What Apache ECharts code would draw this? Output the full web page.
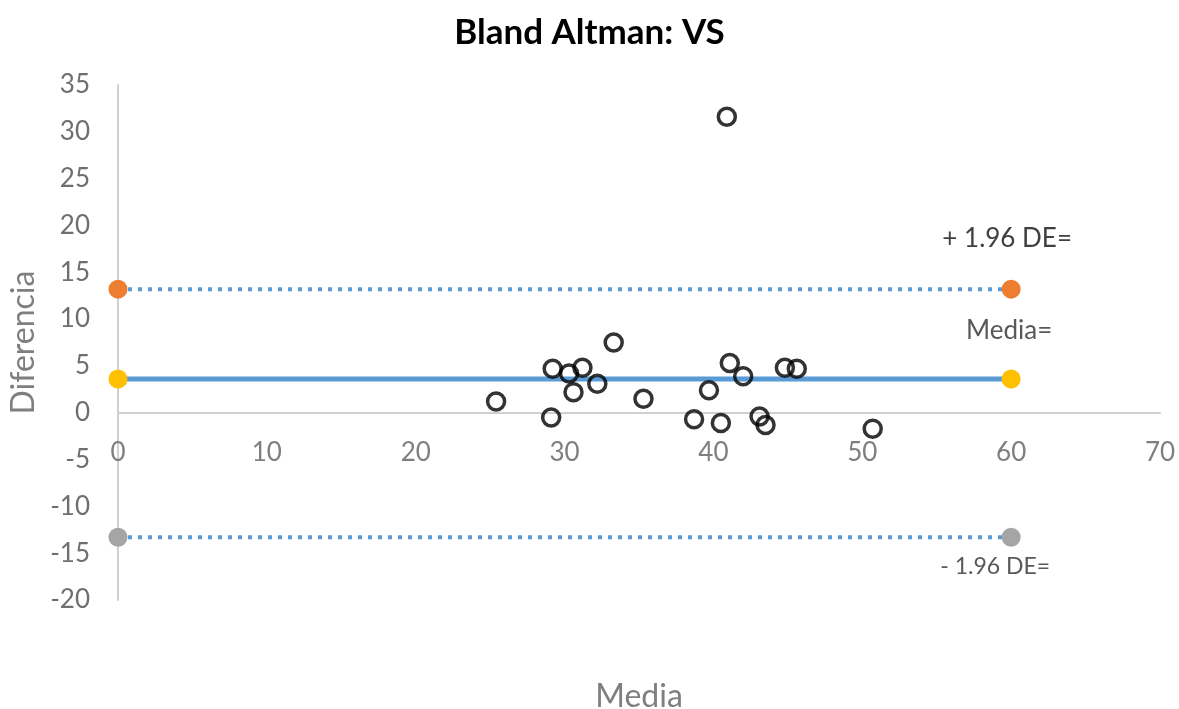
<!DOCTYPE html>
<html><head><meta charset="utf-8">
<script src="https://cdn.jsdelivr.net/npm/echarts@6/dist/echarts.min.js"></script>
<style>html,body{margin:0;padding:0;background:#fff}#c{width:1179px;height:709px}</style>
</head><body><div id="c"></div>
<script>
var mediaX = [25.4, 29.1, 29.2, 30.3, 31.2, 30.6, 32.2, 33.3, 35.3, 40.9, 41.1, 42.0, 39.7, 38.7, 40.5, 43.1, 43.5, 44.8, 45.6, 50.7];
var diferenciaY = [1.2, -0.5, 4.7, 4.2, 4.8, 2.2, 3.1, 7.5, 1.5, 31.6, 5.3, 3.9, 2.4, -0.7, -1.1, -0.4, -1.3, 4.8, 4.7, -1.7];
var lineX = [0, 60];
var upperLimit = 13.2;
var meanDiff = 3.6;
var lowerLimit = -13.3;
var yTicks = {min: -20, max: 35, interval: 5};
var xTicks = {min: 0, max: 70, interval: 10};

var pts = mediaX.map(function (x, i) { return [x, diferenciaY[i]]; });
function hline(v) { return lineX.map(function (x) { return [x, v]; }); }
var font = 'Lato, "Noto Sans", sans-serif';

var chart = echarts.init(document.getElementById('c'));
chart.setOption({
  animation: false,
  title: {
    text: 'Bland Altman: VS', left: 'center', top: 10,
    textStyle: {fontFamily: font, fontSize: 35, fontWeight: 'bold', color: '#000'}
  },
  grid: {left: 118, right: 19, top: 85, bottom: 109, containLabel: false, outerBoundsMode: 'none'},
  xAxis: {
    type: 'value', min: xTicks.min, max: xTicks.max, interval: xTicks.interval,
    name: 'Media', nameLocation: 'middle', nameGap: 81,
    nameTextStyle: {fontFamily: font, fontSize: 32, color: '#7f7f7f'},
    axisLine: {onZero: true, lineStyle: {color: '#d0d0d0', width: 2}},
    axisTick: {show: false},
    splitLine: {show: false},
    axisLabel: {margin: -160, fontFamily: font, fontSize: 26, color: '#7f7f7f'}
  },
  yAxis: {
    type: 'value', min: yTicks.min, max: yTicks.max, interval: yTicks.interval,
    name: 'Diferencia', nameLocation: 'middle', nameGap: 72, nameRotate: 90,
    nameTextStyle: {fontFamily: font, fontSize: 32, color: '#7f7f7f'},
    axisLine: {show: true, onZero: false, lineStyle: {color: '#d0d0d0', width: 2}},
    axisTick: {show: false},
    splitLine: {show: false},
    axisLabel: {margin: 28, fontFamily: font, fontSize: 26, color: '#6f6f6f'}
  },
  series: [
    {
      type: 'line', data: hline(upperLimit), symbol: 'circle', symbolSize: 19,
      itemStyle: {color: '#ED7D31'},
      lineStyle: {color: '#5B9BD5', width: 4, type: [4, 6]},
      label: {show: true, position: 'top', distance: 28, offset: [-4, 0], fontFamily: font, fontSize: 26, color: '#404040',
        formatter: function (p) { return p.dataIndex === 1 ? '+ 1.96 DE=' : ''; }},
      z: 2
    },
    {
      type: 'line', data: hline(meanDiff), symbol: 'circle', symbolSize: 19,
      itemStyle: {color: '#FFC000'},
      lineStyle: {color: '#5B9BD5', width: 5, type: 'solid'},
      label: {show: true, position: 'top', distance: 26, offset: [-2, 0], fontFamily: font, fontSize: 26, color: '#595959',
        formatter: function (p) { return p.dataIndex === 1 ? 'Media=' : ''; }},
      z: 2
    },
    {
      type: 'line', data: hline(lowerLimit), symbol: 'circle', symbolSize: 19,
      itemStyle: {color: '#A5A5A5'},
      lineStyle: {color: '#5B9BD5', width: 4, type: [4, 6]},
      label: {show: true, position: 'bottom', distance: 8, offset: [-16, 0], fontFamily: font, fontSize: 23, color: '#595959',
        formatter: function (p) { return p.dataIndex === 1 ? '- 1.96 DE=' : ''; }},
      z: 2
    },
    {
      type: 'scatter', data: pts, symbol: 'circle', symbolSize: 17,
      itemStyle: {color: 'rgba(255,255,255,0)', borderColor: '#000', borderWidth: 3.5},
      z: 3
    }
  ]
});
</script></body></html>
